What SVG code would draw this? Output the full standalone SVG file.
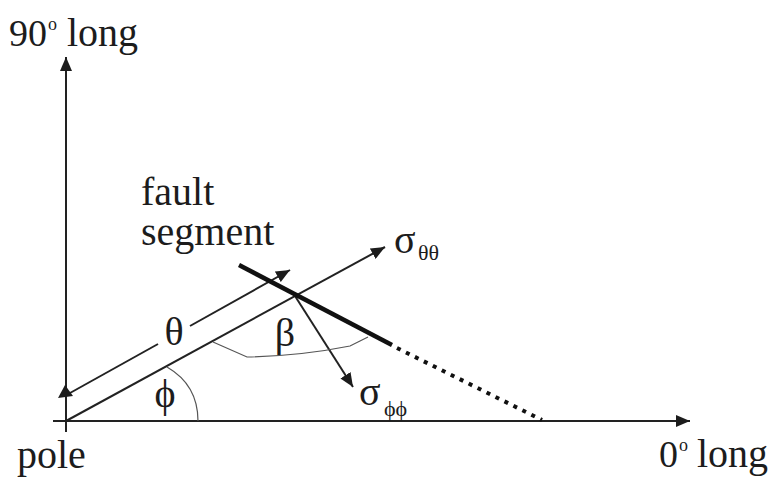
<svg xmlns="http://www.w3.org/2000/svg" width="772" height="486" viewBox="0 0 772 486">
  <style>
    text { font-family: "Liberation Serif", "Times New Roman", Times, serif; fill: #1c1c1c; }
    .big { font-size: 40px; }
    .num { font-size: 38px; }
    .gr { font-size: 40px; }
    .sub { font-size: 22px; }
    .sup { font-size: 18px; }
    .ln { stroke: #222; stroke-width: 2; fill: none; }
    .thin { stroke: #555; stroke-width: 1.2; fill: none; }
    .fault { stroke: #111; stroke-width: 4.5; fill: none; }
    .dots { stroke: #111; stroke-width: 4; fill: none; stroke-dasharray: 4 6; }
  </style>
  <defs>
    <marker id="ah" markerUnits="userSpaceOnUse" markerWidth="15" markerHeight="12" refX="14" refY="6" orient="auto">
      <path d="M0,0 L14,6 L0,12 z" fill="#1c1c1c"/>
    </marker>
  </defs>
  <rect width="772" height="486" fill="#fff"/>

  <g id="connectors">
    <line id="axis-v" class="ln" x1="66" y1="432" x2="66" y2="57" marker-end="url(#ah)"/>
    <line id="axis-h" class="ln" x1="53" y1="421" x2="690" y2="421" marker-end="url(#ah)"/>
    <line id="radial" class="ln" x1="66" y1="421" x2="385" y2="247" marker-end="url(#ah)"/>
    <line id="theta-a" class="ln" x1="70" y1="393" x2="158" y2="344"/>
    <line id="theta-b" class="ln" x1="190" y1="326" x2="290" y2="270" marker-end="url(#ah)"/>
    <polygon id="theta-head" points="65,385 58,398 73,396" fill="#1c1c1c"/>
    <line id="sigma-pp" class="ln" x1="295" y1="296" x2="353" y2="387" marker-end="url(#ah)"/>
    <path id="arc-beta" class="thin" d="M213,342 L247,357 Q300,356 350,346 L368,337"/>
    <path id="arc-phi" class="thin" d="M167,367 C186,378 198,395 198,421"/>
  </g>

  <g id="fault-segment">
    <line class="fault" x1="239" y1="265" x2="392" y2="345"/>
    <line class="dots" x1="397" y1="348" x2="542" y2="420"/>
  </g>

  <g id="label-90">
    <text class="num" x="9" y="46">90<tspan class="sup" x="48" y="30">o</tspan><tspan class="big" x="67" y="46">long</tspan></text>
  </g>
  <g id="label-0">
    <text class="num" x="659" y="467">0<tspan class="sup" x="679" y="451">o</tspan><tspan class="big" x="697" y="467">long</tspan></text>
  </g>
  <g id="label-pole">
    <text class="big" x="17" y="468">pole</text>
  </g>
  <g id="label-fault">
    <text class="big" x="141" y="205">fault<tspan x="141" y="245">segment</tspan></text>
  </g>
  <g id="label-sigma-tt">
    <text class="gr" x="394" y="253">σ<tspan class="sub" x="418" y="260">θθ</tspan></text>
  </g>
  <g id="label-sigma-pp">
    <text class="gr" x="359" y="405">σ<tspan class="sub" x="384" y="416">ϕϕ</tspan></text>
  </g>
  <g id="label-theta"><text class="gr" x="174" y="345" text-anchor="middle">θ</text></g>
  <g id="label-beta"><text class="gr" x="285" y="346" text-anchor="middle">β</text></g>
  <g id="label-phi"><text class="gr" x="165" y="407" text-anchor="middle">ϕ</text></g>
</svg>
